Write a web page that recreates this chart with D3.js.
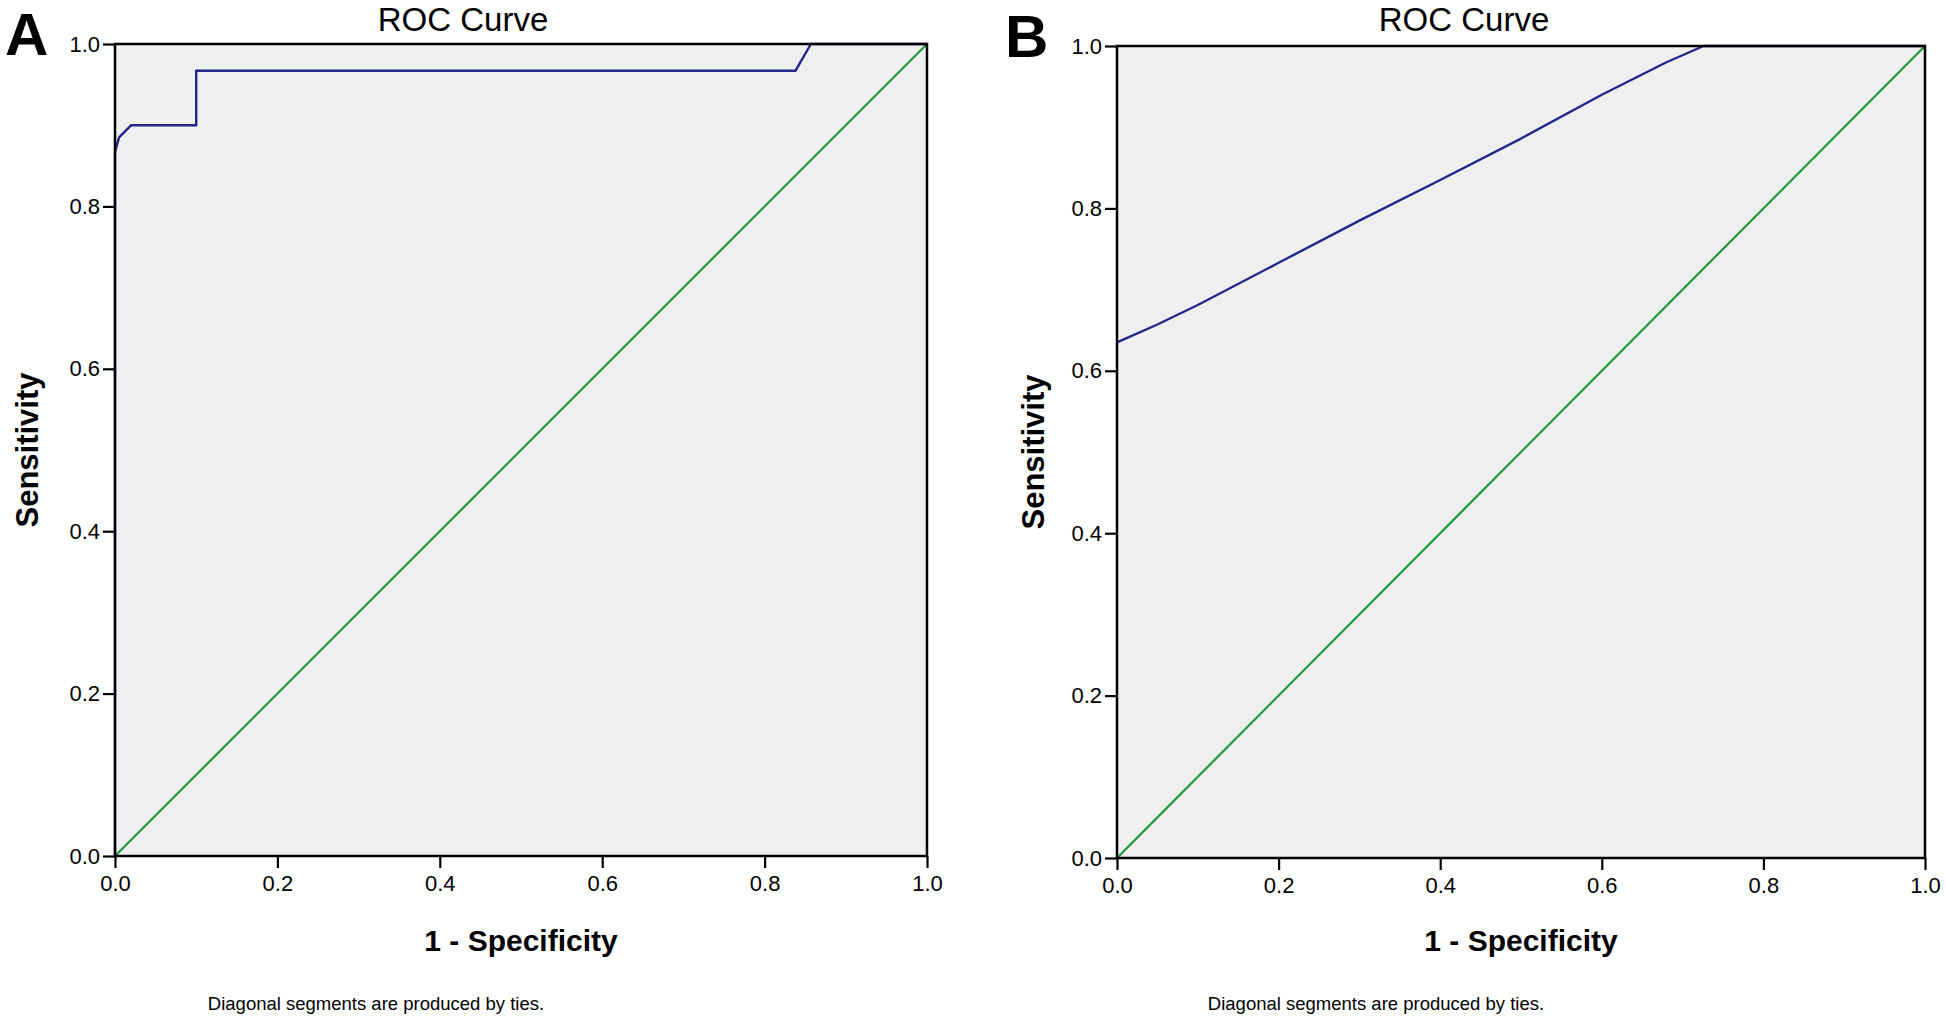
<!DOCTYPE html>
<html>
<head>
<meta charset="utf-8">
<script src="https://cdn.jsdelivr.net/npm/d3@7"></script>
<style>
  html, body { margin: 0; padding: 0; background: #ffffff; }
  svg { display: block; }
  text { font-family: "Liberation Sans", Arial, sans-serif; fill: #000; }
</style>
</head>
<body>
<svg id="chart" width="1946" height="1026"></svg>
<script>
// ---------- data ----------
const panelLabels = ["A", "B"];
const chartTitle = "ROC Curve";
const xAxisTitle = "1 - Specificity";
const yAxisTitle = "Sensitivity";
const footnote = "Diagonal segments are produced by ties.";
const tickValues = [0.0, 0.2, 0.4, 0.6, 0.8, 1.0];

// Panel A ROC curve: [1 - specificity, sensitivity]
const rocA = [
  [0.000, 0.000], [0.000, 0.867], [0.005, 0.885], [0.020, 0.900],
  [0.100, 0.900], [0.100, 0.967], [0.838, 0.967], [0.857, 1.000],
  [1.000, 1.000]
];
// Panel B ROC curve
const rocB = [
  [0.000, 0.635], [0.050, 0.657], [0.100, 0.681], [0.200, 0.733],
  [0.300, 0.785], [0.400, 0.835], [0.500, 0.886], [0.600, 0.940],
  [0.680, 0.980], [0.726, 1.000], [1.000, 1.000]
];
// Reference line
const refLine = [[0, 0], [0.5, 0.5], [1, 1]];

// ---------- layout ----------
const panels = [
  { label: panelLabels[0], roc: rocA, left: 115, right: 927, top: 44, bottom: 856,
    labelX: 5, labelY: 55, titleX: 463, footX: 376, yTitleX: 38 },
  { label: panelLabels[1], roc: rocB, left: 1117, right: 1925, top: 46, bottom: 858,
    labelX: 1005, labelY: 57, titleX: 1464, footX: 1376, yTitleX: 1044 }
];

const svg = d3.select("#chart");
const blue = "#23268a";
const green = "#1c9a3a";

panels.forEach(p => {
  const g = svg.append("g");
  const x = d3.scaleLinear().domain([0, 1]).range([p.left, p.right]);
  const y = d3.scaleLinear().domain([0, 1]).range([p.bottom, p.top]);

  // background
  g.append("rect")
    .attr("x", x(0)).attr("y", y(1))
    .attr("width", x(1) - x(0)).attr("height", y(0) - y(1))
    .attr("fill", "#efefef");

  const line = d3.line().x(d => x(d[0])).y(d => y(d[1]));

  // reference diagonal
  g.append("path").datum(refLine)
    .attr("d", line).attr("fill", "none")
    .attr("stroke", green).attr("stroke-width", 2.2);

  // ROC curve
  g.append("path").datum(p.roc)
    .attr("d", line).attr("fill", "none")
    .attr("stroke", blue).attr("stroke-width", 2.4)
    .attr("stroke-linejoin", "round");

  // frame
  g.append("rect")
    .attr("x", x(0)).attr("y", y(1))
    .attr("width", x(1) - x(0)).attr("height", y(0) - y(1))
    .attr("fill", "none").attr("stroke", "#000").attr("stroke-width", 2.5);

  // axes
  const yAxis = d3.axisLeft(y).tickValues(tickValues)
    .tickFormat(d3.format(".1f")).tickSize(12).tickPadding(3);
  const xAxis = d3.axisBottom(x).tickValues(tickValues)
    .tickFormat(d3.format(".1f")).tickSize(12).tickPadding(7);

  const ya = g.append("g").attr("transform", `translate(${x(0)},0)`).call(yAxis);
  const xa = g.append("g").attr("transform", `translate(0,${y(0)})`).call(xAxis);
  [ya, xa].forEach(a => {
    a.select(".domain").remove();
    a.selectAll(".tick line").attr("stroke", "#000").attr("stroke-width", 2.2);
    a.selectAll(".tick text")
      .attr("font-family", "'Liberation Sans', Arial, sans-serif")
      .attr("font-size", 22).attr("fill", "#000");
  });

  // panel letter
  svg.append("text").attr("x", p.labelX).attr("y", p.labelY)
    .attr("font-size", 60).attr("font-weight", "bold").text(p.label);

  // title
  svg.append("text").attr("x", p.titleX).attr("y", 31)
    .attr("text-anchor", "middle").attr("font-size", 33).text(chartTitle);

  // x axis title
  svg.append("text").attr("x", (p.left + p.right) / 2).attr("y", 951)
    .attr("text-anchor", "middle").attr("font-size", 30).attr("font-weight", "bold")
    .text(xAxisTitle);

  // y axis title
  svg.append("text")
    .attr("transform", `translate(${p.yTitleX},${(p.top + p.bottom) / 2}) rotate(-90)`)
    .attr("text-anchor", "middle").attr("font-size", 31).attr("font-weight", "bold")
    .text(yAxisTitle);

  // footnote
  svg.append("text").attr("x", p.footX).attr("y", 1010)
    .attr("text-anchor", "middle").attr("font-size", 18.5).text(footnote);
});
</script>
</body>
</html>
